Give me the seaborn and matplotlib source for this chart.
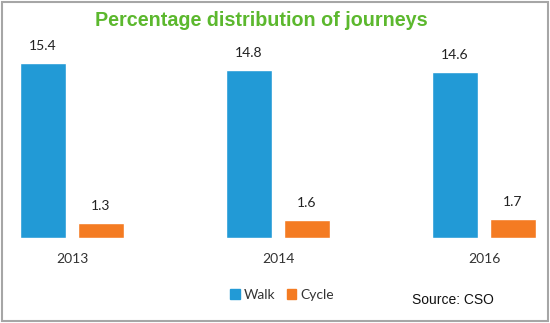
import matplotlib
matplotlib.use("Agg")
import matplotlib.pyplot as plt
from matplotlib.patches import Rectangle
import seaborn as sns
import pandas as pd

years = ["2013", "2014", "2016"]
walk = [15.4, 14.8, 14.6]
cycle = [1.3, 1.6, 1.7]
modes = ["Walk", "Cycle"]
colors = ["#229ad6", "#f47b22"]

df = pd.DataFrame({
    "year": years * 2,
    "mode": [modes[0]] * len(years) + [modes[1]] * len(years),
    "share": walk + cycle,
})

sns.set_theme(style="white")
plt.rcParams["font.family"] = ["Lato", "DejaVu Sans"]

W, H = 550, 323
fig = plt.figure(figsize=(W / 100, H / 100), dpi=100)
ax = fig.add_axes([10 / W, 1 - 238 / H, (545 - 10) / W, (238 - 40) / H])

sns.barplot(data=df, x="year", y="share", hue="mode", palette=colors,
            width=0.563, gap=0.21, ax=ax, legend=False, saturation=1)

for cont in ax.containers:
    ax.bar_label(cont, labels=[f"{v:.1f}" for v in cont.datavalues],
                 padding=8, fontsize=10, color="#222222")

ax.set_xlim(-0.301, 2.296)
ax.set_ylim(0, 17.43)
ax.set_xlabel("")
ax.set_ylabel("")
ax.set_yticks([])
ax.tick_params(axis="x", length=0, pad=11, labelsize=10, labelcolor="#333333")
sns.despine(ax=ax, left=True, bottom=True)

fig.text(261 / W, 1 - 20 / H, "Percentage distribution of journeys",
         ha="center", va="center", fontsize=14.2, fontweight="bold",
         color="#5cb82e", family="Liberation Sans")

# legend
handles = [Rectangle((0, 0), 1, 1, color=c) for c in colors]
fig.legend(handles, modes, loc="center", bbox_to_anchor=(282 / W, 1 - 295 / H),
           ncol=2, frameon=False, fontsize=10, handlelength=0.7, handleheight=0.7,
           handletextpad=0.3, columnspacing=0.8, labelcolor="#333333")

fig.text(412 / W, 1 - 300 / H, "Source: CSO", ha="left", va="center",
         fontsize=10, color="#111111", family="Liberation Sans")

# outer frame
fig.patches.append(Rectangle((2 / W, 2 / H), (W - 4) / W, (H - 4) / H,
                             transform=fig.transFigure, fill=False,
                             edgecolor="#a6a6a6", linewidth=1.5))

fig.savefig("out.png", dpi=100)
